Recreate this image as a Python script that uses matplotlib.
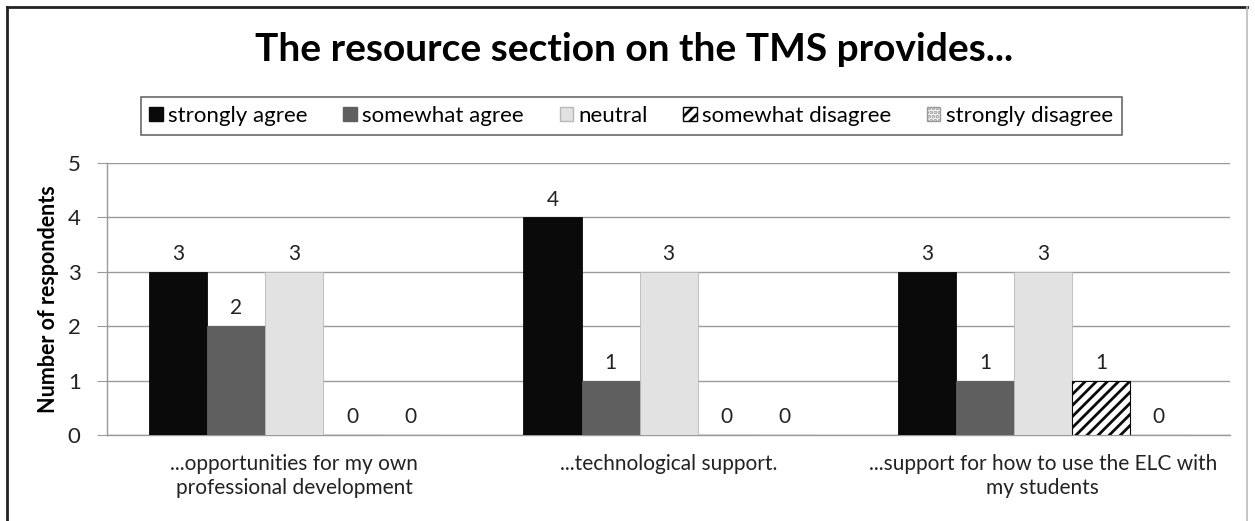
import matplotlib.pyplot as plt
from matplotlib.lines import Line2D
from matplotlib.patches import Patch
import numpy as np

plt.rcParams['font.family'] = ['Lato', 'DejaVu Sans']
plt.rcParams['hatch.linewidth'] = 2.0

categories = ["...opportunities for my own\nprofessional development",
              "...technological support.",
              "...support for how to use the ELC with\nmy students"]
series = ["strongly agree", "somewhat agree", "neutral",
          "somewhat disagree", "strongly disagree"]
values = [
    [3, 4, 3],   # strongly agree
    [2, 1, 1],   # somewhat agree
    [3, 3, 3],   # neutral
    [0, 0, 1],   # somewhat disagree
    [0, 0, 0],   # strongly disagree
]

faces = ['#0a0a0a', '#5f5f5f', '#e2e2e2', 'white', 'white']
edges = ['#0a0a0a', '#5f5f5f', '#b8b8b8', '#0a0a0a', '#9a9a9a']
hatches = [None, None, None, '///', '....']

fig = plt.figure(figsize=(12.55, 5.21), dpi=100)
ax = fig.add_axes([0.0853, 0.165, 0.8948, 0.522])

# outer frame of the chart area (bottom edge is cut off in the original)
fl, ft, fr = 7 / 1255, 1 - 7 / 521, 1247 / 1255
fig.add_artist(Line2D([fl, fl], [0, ft], transform=fig.transFigure,
                      color='#222222', linewidth=2))
fig.add_artist(Line2D([fl, fr], [ft, ft], transform=fig.transFigure,
                      color='#222222', linewidth=2))
fig.add_artist(Line2D([fr, fr], [0, ft], transform=fig.transFigure,
                      color='#bbbbbb', linewidth=1.2))

x = np.arange(len(categories))
width = 0.155
for i, name in enumerate(series):
    pos = x + (i - 2) * width
    bars = ax.bar(pos, values[i], width, color=faces[i], edgecolor=edges[i],
                  hatch=hatches[i], linewidth=0.8 if hatches[i] else 0.6,
                  zorder=3, label=name)
    for b, v in zip(bars, values[i]):
        ax.text(b.get_x() + b.get_width() / 2, v + 0.33, str(v),
                ha='center', va='center', fontsize=15, color='#222222',
                zorder=4)

ax.set_xlim(-0.5, 2.5)
ax.set_ylim(0, 5)
ax.set_yticks(range(6))
ax.set_xticks(x)
ax.set_xticklabels(categories, fontsize=15, color='#222222', linespacing=1.25)
ax.tick_params(axis='x', length=0, pad=14)
ax.tick_params(axis='y', length=7, color='#999999', labelsize=16,
               labelcolor='#222222', pad=12)
ax.grid(axis='y', color='#9a9a9a', linewidth=1.0, zorder=0)
for s in ['top', 'right']:
    ax.spines[s].set_visible(False)
for s in ['left', 'bottom']:
    ax.spines[s].set_color('#999999')
    ax.spines[s].set_linewidth(1.0)

ax.set_ylabel("Number of respondents", fontsize=15.5, fontweight='bold',
              labelpad=6)

fig.text(0.505, 0.905, "The resource section on the TMS provides...",
         ha='center', va='center', fontsize=28, fontweight='bold')

handles = [Patch(facecolor=faces[i], edgecolor=edges[i], hatch=hatches[i],
                 label=series[i]) for i in range(len(series))]
leg = fig.legend(handles=handles, loc='center', bbox_to_anchor=(0.503, 0.777),
                 ncol=5, fontsize=16, frameon=True, fancybox=False,
                 edgecolor='#444444', handlelength=0.6, handleheight=0.6,
                 handletextpad=0.25, columnspacing=1.6, borderpad=0.4)
leg.get_frame().set_linewidth(1.2)

fig.savefig('out.png', dpi=100)
